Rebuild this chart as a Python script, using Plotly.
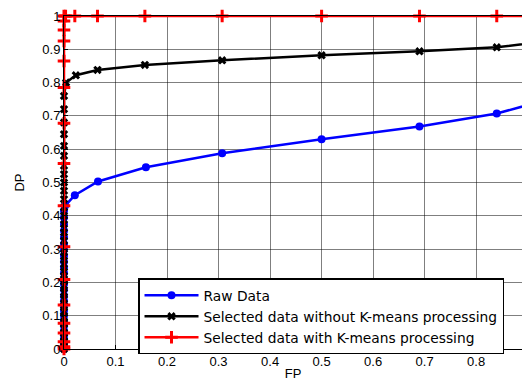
import plotly.graph_objects as go

# ROC points: false-positive rate (FP) vs detection rate (DP)
raw_fp = [0, 0, 0, 0, 0, 0, 0, 0, 0, 0, 0, 0, 0, 0, 0, 0, 0, 0, 0, 0, 0, 0, 0, 0, 0, 0, 0, 0,
          0.002, 0.021, 0.066, 0.159, 0.307, 0.500, 0.690, 0.840, 0.950]
raw_dp = [0, 0.005, 0.012, 0.02, 0.03, 0.042, 0.055, 0.07, 0.085, 0.1, 0.115, 0.13, 0.145, 0.16,
          0.178, 0.195, 0.21, 0.228, 0.245, 0.262, 0.28, 0.298, 0.315, 0.335, 0.355, 0.375,
          0.395, 0.415, 0.43, 0.462, 0.503, 0.546, 0.588, 0.630, 0.668, 0.707, 0.754]

sel_fp = [0, 0, 0, 0, 0, 0, 0, 0, 0, 0, 0, 0, 0, 0, 0, 0, 0, 0, 0, 0, 0, 0, 0, 0, 0, 0, 0, 0,
          0, 0, 0, 0, 0, 0, 0, 0.004, 0.023, 0.065, 0.157, 0.307, 0.500, 0.690, 0.840, 0.950]
sel_dp = [0, 0.006, 0.014, 0.024, 0.035, 0.048, 0.062, 0.078, 0.095, 0.112, 0.13, 0.15, 0.17,
          0.19, 0.21, 0.232, 0.255, 0.278, 0.3, 0.325, 0.35, 0.375, 0.4, 0.425, 0.45, 0.475,
          0.5, 0.525, 0.55, 0.58, 0.61, 0.645, 0.68, 0.72, 0.76, 0.80, 0.822, 0.838, 0.853,
          0.867, 0.882, 0.894, 0.906, 0.926]

km_fp = [0, 0, 0, 0, 0, 0, 0, 0, 0, 0, 0, 0, 0, 0, 0, 0, 0,
         0.003, 0.021, 0.065, 0.157, 0.307, 0.500, 0.690, 0.840, 0.950]
km_dp = [0, 0.007, 0.022, 0.048, 0.077, 0.132, 0.209, 0.307, 0.43, 0.557, 0.678, 0.785,
         0.865, 0.925, 0.958, 0.985, 1.0,
         1.0, 1.0, 1.0, 1.0, 1.0, 1.0, 1.0, 1.0, 1.0]

x_ticks = [0, 0.1, 0.2, 0.3, 0.4, 0.5, 0.6, 0.7, 0.8]
x_labels = ["0", "0.1", "0.2", "0.3", "0.4", "0.5", "0.6", "0.7", "0.8"]
y_ticks = [0, 0.1, 0.2, 0.3, 0.4, 0.5, 0.6, 0.7, 0.8, 0.9, 1.0]
y_labels = ["0", "0.1", "0.2", "0.3", "0.4", "0.5", "0.6", "0.7", "0.8", "0.9", "1"]

FONT = "Liberation Sans, Arial, sans-serif"
LEGEND_FONT = "DejaVu Sans, sans-serif"

fig = go.Figure()
fig.add_trace(go.Scatter(
    x=raw_fp, y=raw_dp, mode="lines+markers", name="Raw Data",
    line=dict(color="#0000ff", width=2.5),
    marker=dict(symbol="circle", size=8, color="#0000ff"),
    cliponaxis=False))
fig.add_trace(go.Scatter(
    x=sel_fp, y=sel_dp, mode="lines+markers",
    name="Selected data without K-means processing",
    line=dict(color="#000000", width=2.5),
    marker=dict(symbol="x", size=7.5, color="#000000"),
    cliponaxis=False))
fig.add_trace(go.Scatter(
    x=km_fp, y=km_dp, mode="lines+markers",
    name="Selected data with K-means processing",
    line=dict(color="#ff0000", width=2.5),
    marker=dict(symbol="cross-thin", size=9, color="#ff0000",
                line=dict(color="#ff0000", width=3)),
    cliponaxis=False))

axis_common = dict(
    showgrid=True, gridcolor="rgba(0,0,0,0.5)", gridwidth=1,
    showline=True, linecolor="black", linewidth=1, mirror=True,
    ticks="inside", ticklen=4, tickcolor="black",
    zeroline=False, tickfont=dict(family=FONT, size=13, color="black"),
)

fig.update_layout(
    width=522, height=381,
    margin=dict(l=64, r=0, t=16, b=32),
    paper_bgcolor="white", plot_bgcolor="white",
    font=dict(family=FONT, size=12, color="black"),
    showlegend=True,
    legend=dict(
        x=0.1616, y=0.212, xanchor="left", yanchor="top",
        bgcolor="white", bordercolor="black", borderwidth=1.5,
        font=dict(family=LEGEND_FONT, size=13.8, color="black"),
        itemwidth=54, tracegroupgap=0,
    ),
    xaxis=dict(range=[0, 0.889], tickvals=x_ticks, ticktext=x_labels,
               title=dict(text="FP", font=dict(family=FONT, size=13), standoff=2),
               **axis_common),
    yaxis=dict(range=[0, 1], tickvals=y_ticks, ticktext=y_labels,
               title=dict(text="DP", font=dict(family=FONT, size=13), standoff=14),
               **axis_common),
)

fig.write_html("out.html")
